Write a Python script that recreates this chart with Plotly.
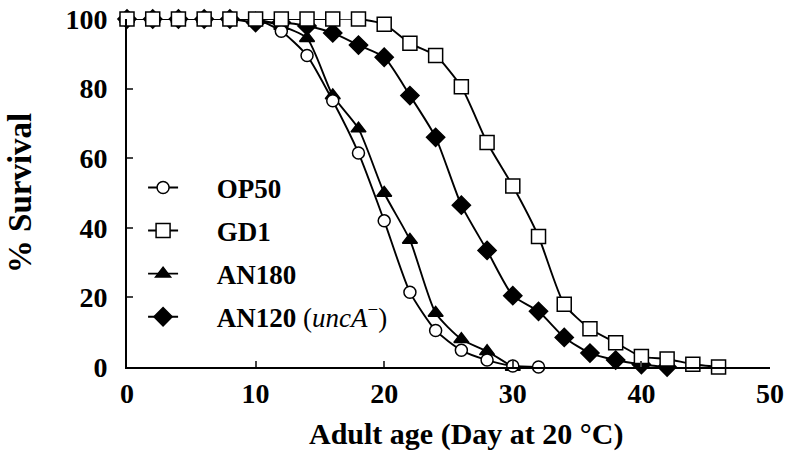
import plotly.graph_objects as go

# survival curves (% alive vs adult day)
days_op50 = [0, 2, 4, 6, 8, 10, 12, 14, 16, 18, 20, 22, 24, 26, 28, 30, 32]
surv_op50 = [100, 100, 100, 100, 100, 100, 96.5, 89.5, 76.5, 61.5, 42, 21.5, 10.5, 4.8, 2, 0.3, 0]

days_gd1 = [0, 2, 4, 6, 8, 10, 12, 14, 16, 18, 20, 22, 24, 26, 28, 30, 32, 34, 36, 38, 40, 42, 44, 46]
surv_gd1 = [100, 100, 100, 100, 100, 100, 100, 100, 100, 100, 98.5, 93, 89.5, 80.5, 64.5, 52, 37.5, 18,
            11, 7, 3, 2.3, 0.8, 0]

days_an180 = [0, 2, 4, 6, 8, 10, 12, 14, 16, 18, 20, 22, 24, 26, 28, 30]
surv_an180 = [100, 100, 100, 100, 100, 100, 98, 94.5, 78, 68.5, 50, 36.5, 15.5, 8, 4.5, 0]

days_an120 = [0, 2, 4, 6, 8, 10, 12, 14, 16, 18, 20, 22, 24, 26, 28, 30, 32, 34, 36, 38, 40, 42]
surv_an120 = [100, 100, 100, 100, 100, 99, 99, 98, 96, 92.5, 89, 78, 66, 46.5, 33.5, 20.5, 16, 8.5,
              4, 2, 0.7, 0]

x_ticks = [0, 10, 20, 30, 40, 50]
y_ticks = [0, 20, 40, 60, 80, 100]

serif = "Liberation Serif"
pad = "\u00a0" * 5  # push legend text away from the symbol

fig = go.Figure()

def add(x, y, name, symbol, fill, size, rank):
    fig.add_trace(go.Scatter(
        x=x, y=y, name=pad + name, mode="lines+markers",
        line=dict(color="black", width=1.9, shape="spline", smoothing=0.6),
        marker=dict(symbol=symbol, size=size, color=fill,
                    line=dict(color="black", width=1.5)),
        cliponaxis=False, legendrank=rank, legendgroup=name,
    ))

# drawing order: filled first, open symbols on top
add(days_an120, surv_an120, "<b>AN120</b> (<i>uncA</i><sup>−</sup>)", "diamond", "black", 14, 4)
add(days_an180, surv_an180, "<b>AN180</b>", "triangle-up", "black", 13, 3)
add(days_op50, surv_op50, "<b>OP50</b>", "circle", "white", 12, 1)
add(days_gd1, surv_gd1, "<b>GD1</b>", "square", "white", 14, 2)

fig.update_layout(
    width=800, height=461,
    margin=dict(l=127, r=30, t=19, b=94),
    plot_bgcolor="white", paper_bgcolor="white",
    font=dict(family=serif, size=27, color="black"),
    showlegend=True,
    legend=dict(x=0.025, y=0.585, xanchor="left", yanchor="top",
                bgcolor="rgba(0,0,0,0)", font=dict(size=27),
                traceorder="grouped", tracegroupgap=5),
)
# x title sits a little right of the axis centre in the original, so use an annotation
fig.add_annotation(
    text="<b>Adult age (Day at 20 °C)</b>", xref="paper", yref="paper",
    x=0.527, y=-0.193, xanchor="center", yanchor="middle", showarrow=False,
    font=dict(size=30, family=serif),
)
fig.update_xaxes(
    range=[0, 50], tickvals=x_ticks, ticks="inside", ticklen=6, tickwidth=1.5,
    showline=True, linecolor="black", linewidth=1.8, showgrid=False, zeroline=False,
    automargin=False,
    tickfont=dict(size=28, family=serif, weight="bold"),
)
fig.update_yaxes(
    range=[0, 100], tickvals=y_ticks, ticks="inside", ticklen=6, tickwidth=1.5,
    showline=True, linecolor="black", linewidth=1.8, showgrid=False, zeroline=False,
    automargin=False, ticklabelstandoff=12,
    tickfont=dict(size=28, family=serif, weight="bold"),
    title=dict(text="<b>% Survival</b>", font=dict(size=33), standoff=24),
)

fig.write_html("out.html", config={"displayModeBar": False},
               post_script="document.body.style.margin='0';")
